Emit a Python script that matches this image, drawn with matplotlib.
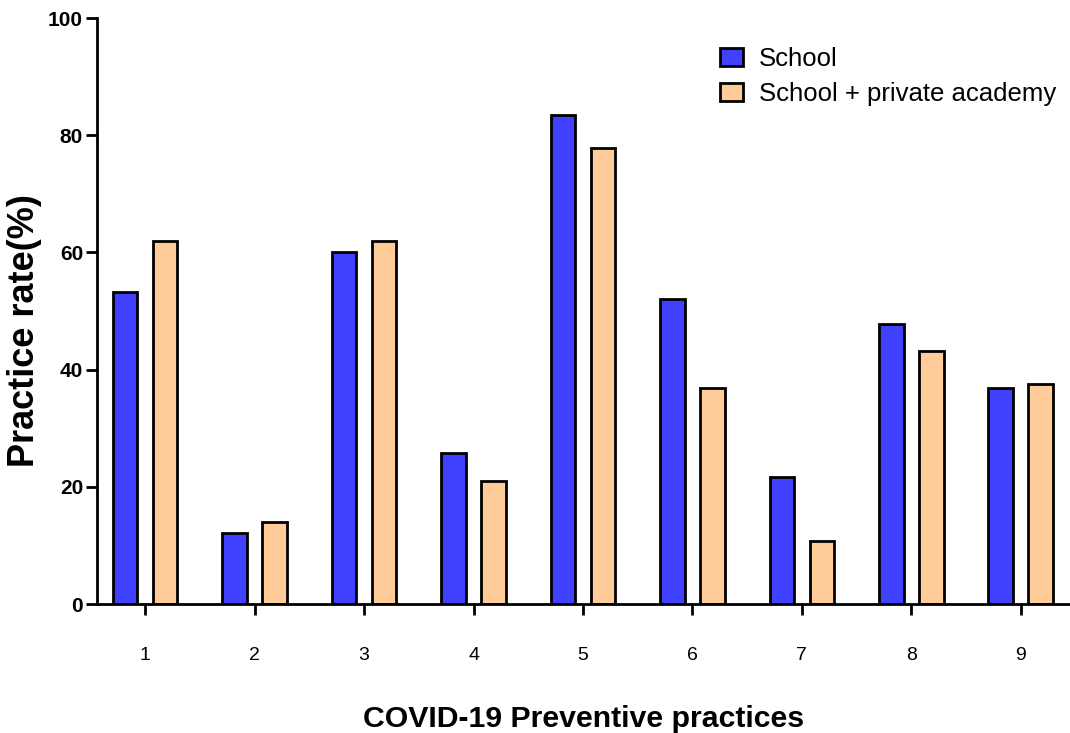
import matplotlib
matplotlib.use("Agg")
import matplotlib.pyplot as plt
import numpy as np

plt.rcParams['font.family'] = ['Liberation Sans', 'DejaVu Sans']

categories = ["1", "2", "3", "4", "5", "6", "7", "8", "9"]
school = [53.2, 12.1, 60.1, 25.8, 83.4, 52.0, 21.7, 47.7, 36.8]
school_academy = [62.0, 14.0, 62.0, 21.0, 77.8, 36.8, 10.8, 43.1, 37.5]
series_names = ["School", "School + private academy"]

W, H = 1070, 733
fig = plt.figure(figsize=(W / 100, H / 100), dpi=100)
ax = fig.add_axes([97/W, 1 - 604/H, 1 - 97/W, (604 - 18)/H])

x = np.arange(1, len(categories) + 1)
w = 0.225
off = 0.183
lw = 2.0
ax.bar(x - off, school, width=w, color='#4040FF', edgecolor='black', linewidth=lw, label=series_names[0], zorder=3)
ax.bar(x + off, school_academy, width=w, color='#FFCC99', edgecolor='black', linewidth=lw, label=series_names[1], zorder=3)

ax.set_xlim(0.56, 9.45)
ax.set_ylim(0, 100)
ax.set_yticks([0, 20, 40, 60, 80, 100])
ax.set_xticks(x)
ax.set_xticklabels(categories)

for s in ['top', 'right']:
    ax.spines[s].set_visible(False)
for s in ['left', 'bottom']:
    ax.spines[s].set_linewidth(2.0)
ax.spines['bottom'].set_zorder(4)

ax.tick_params(axis='y', direction='out', length=8, width=2.0, labelsize=15, pad=2)
ax.tick_params(axis='x', direction='out', length=8, width=2.0, labelsize=14, pad=23)
for t in ax.get_yticklabels():
    t.set_fontweight('bold')

ax.set_ylabel("Practice rate(%)", fontsize=26, fontweight='bold')
ax.yaxis.set_label_coords((42 - 97) / 973, (604 - 331) / 586)
ax.set_xlabel("COVID-19 Preventive practices", fontsize=21.8, fontweight='bold')
ax.xaxis.set_label_coords(0.5, -(705 - 604) / 586)

leg = ax.legend(loc='upper left', bbox_to_anchor=(720 / W, 1 - 47 / H), bbox_transform=fig.transFigure,
                frameon=False, fontsize=18.5, borderpad=0, borderaxespad=0,
                handlelength=0.9, handleheight=0.7, handletextpad=0.62, labelspacing=0.43)

fig.savefig("out.png", dpi=100)
